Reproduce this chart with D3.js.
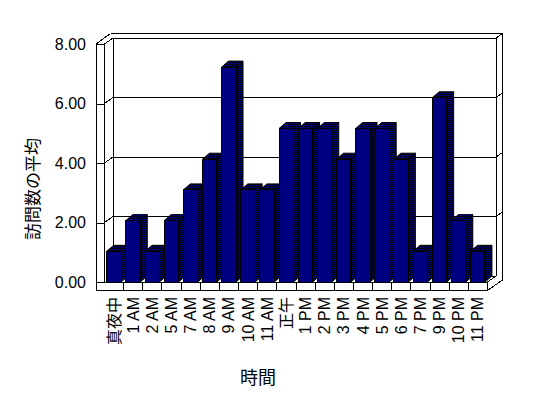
<!DOCTYPE html>
<html>
<head>
<meta charset="utf-8">
<script src="https://cdn.jsdelivr.net/npm/d3@7"></script>
<style>
body { margin: 0; background: #fff; }
text { font-family: "Liberation Sans", "Noto Sans CJK JP", sans-serif; fill: #000; }
</style>
</head>
<body>
<div id="chart"></div>
<script>
var hours = ["真夜中", "1 AM", "2 AM", "5 AM", "7 AM", "8 AM", "9 AM", "10 AM", "11 AM", "正午",
	"1 PM", "2 PM", "3 PM", "4 PM", "5 PM", "6 PM", "7 PM", "9 PM", "10 PM", "11 PM"];
var visits = [1, 2, 1, 2, 3, 4, 7, 3, 3, 5, 5, 5, 4, 5, 5, 4, 1, 6, 2, 1];
var yTicks = [0, 2, 4, 6, 8];
var yTitle = "訪問数の平均",
	xTitle = "時間";

var width = 548,
	height = 398;

// front plane of the plot box, depth offset to the back wall
var plotL = 104.5, plotR = 487.5, plotBase = 282, plotTop = 44;
var dx = 8.5, dy = -6;
var wall = 8.5; // thickness of left wall / floor
var bdx = 7, bdy = -6; // bar depth

var svg = d3.select("#chart").append("svg")
	.attr("width", width)
	.attr("height", height);

var x = d3.scaleBand().domain(hours).range([plotL, plotR]);
var yFront = d3.scaleLinear().domain([0, 8]).range([plotBase, plotTop]);
var yBack = d3.scaleLinear().domain([0, 8]).range([plotBase + dy, plotTop + dy]);
var yBar = d3.scaleLinear().domain([0, 8]).range([plotBase, plotBase - 8 * 30.7]);

var defs = svg.append("defs");
var pat = defs.append("pattern").attr("id", "dither")
	.attr("width", 2).attr("height", 2).attr("patternUnits", "userSpaceOnUse");
pat.append("rect").attr("width", 2).attr("height", 2).attr("fill", "#000080");
pat.append("rect").attr("width", 1).attr("height", 1).attr("fill", "#000");
pat.append("rect").attr("x", 1).attr("y", 1).attr("width", 1).attr("height", 1).attr("fill", "#000");

var frame = svg.append("g")
	.attr("fill", "none")
	.attr("stroke", "#000")
	.attr("stroke-width", 1)
	.attr("shape-rendering", "crispEdges");

function line(g, x1, y1, x2, y2) {
	g.append("line").attr("x1", x1).attr("y1", y1).attr("x2", x2).attr("y2", y2);
}

// back wall, top slab and right edge
var bl = plotL + dx, br = plotR + dx, bt = plotTop + dy, bb = plotBase + dy;
var outerTop = plotTop - 10.5;
line(frame, bl, bt, br, bt);
line(frame, plotL - wall + 14.5, outerTop, br + 6.5, outerTop);
line(frame, plotL - wall, plotTop, plotL - wall + 14.5, outerTop);
line(frame, plotL, plotTop, bl, bt);
line(frame, plotL - wall, plotTop, plotL, plotTop);
line(frame, br, bt, br + 6.5, outerTop);
line(frame, bl, bt, bl, bb);
line(frame, br, bt, br, bb);
line(frame, br + 6.5, outerTop, br + 6.5, plotBase + wall - 10.5);

// gridlines on back wall, left wall and right edge
yTicks.filter(function (v) { return v > 0 && v < 8; }).forEach(function (v) {
	line(frame, bl, yBack(v), br, yBack(v));
	line(frame, plotL, yFront(v), bl, yBack(v));
	line(frame, br, yBack(v), br + 6.5, yBack(v) - 4.5);
});

// left wall front face
line(frame, plotL - wall, plotTop, plotL - wall, plotBase + wall);
line(frame, plotL, plotTop, plotL, plotBase);

// floor
line(frame, bl, bb, br, bb);
line(frame, plotL, plotBase, plotR, plotBase);
line(frame, plotL - wall, plotBase + wall, plotR, plotBase + wall);
line(frame, plotR, plotBase, plotR, plotBase + wall);
line(frame, plotR, plotBase, br, bb);
line(frame, plotR, plotBase + wall, br + 6.5, plotBase + wall - 10.5);
hours.slice(1).forEach(function (h) {
	line(frame, x(h), plotBase, x(h), plotBase + wall);
});

// y axis labels and ticks
var yAxis = d3.axisLeft(yFront)
	.tickValues(yTicks)
	.tickSize(wall)
	.tickPadding(10)
	.tickFormat(d3.format(".2f"));

var gY = svg.append("g")
	.attr("transform", "translate(" + plotL + ",0)")
	.call(yAxis);
gY.select(".domain").remove();
gY.selectAll(".tick line").attr("shape-rendering", "crispEdges");
gY.selectAll("text").style("font-size", "16px").attr("fill", "#000");

// bars
var bw = 14.4;
svg.append("g").attr("stroke", "#000").attr("stroke-width", 1)
	.selectAll("g.bar")
	.data(hours.map(function (h, i) { return { hour: h, value: visits[i] }; }))
	.enter().append("g").attr("class", "bar")
	.each(function (d) {
		var g = d3.select(this);
		var x0 = x(d.hour) + 2.2, x1 = x0 + bw, t = yBar(d.value);
		g.append("polygon")
			.attr("fill", "url(#dither)")
			.attr("points", [[x1, t], [x1 + bdx, t + bdy], [x1 + bdx, plotBase + bdy], [x1, plotBase]].join(" "));
		g.append("polygon")
			.attr("fill", "url(#dither)")
			.attr("points", [[x0, t], [x0 + bdx, t + bdy], [x1 + bdx, t + bdy], [x1, t]].join(" "));
		g.append("rect")
			.attr("fill", "#000080")
			.attr("shape-rendering", "crispEdges")
			.attr("x", x0).attr("y", t)
			.attr("width", bw).attr("height", plotBase - t);
	});

// x labels
svg.append("g").selectAll("text")
	.data(hours)
	.enter().append("text")
	.attr("text-anchor", "end")
	.attr("dominant-baseline", "central")
	.style("font-size", "16px")
	.attr("transform", function (h) {
		return "translate(" + (x(h) + x.bandwidth() / 2) + "," + 297 + ") rotate(-90)";
	})
	.text(function (h) { return h; });

// axis titles
svg.append("text")
	.attr("text-anchor", "middle")
	.attr("dominant-baseline", "central")
	.style("font-size", "17px")
	.attr("transform", "translate(33,189) rotate(-90)")
	.text(yTitle);

svg.append("text")
	.attr("x", 258).attr("y", 378)
	.attr("text-anchor", "middle")
	.attr("dominant-baseline", "central")
	.style("font-size", "18px")
	.text(xTitle);
</script>
</body>
</html>
